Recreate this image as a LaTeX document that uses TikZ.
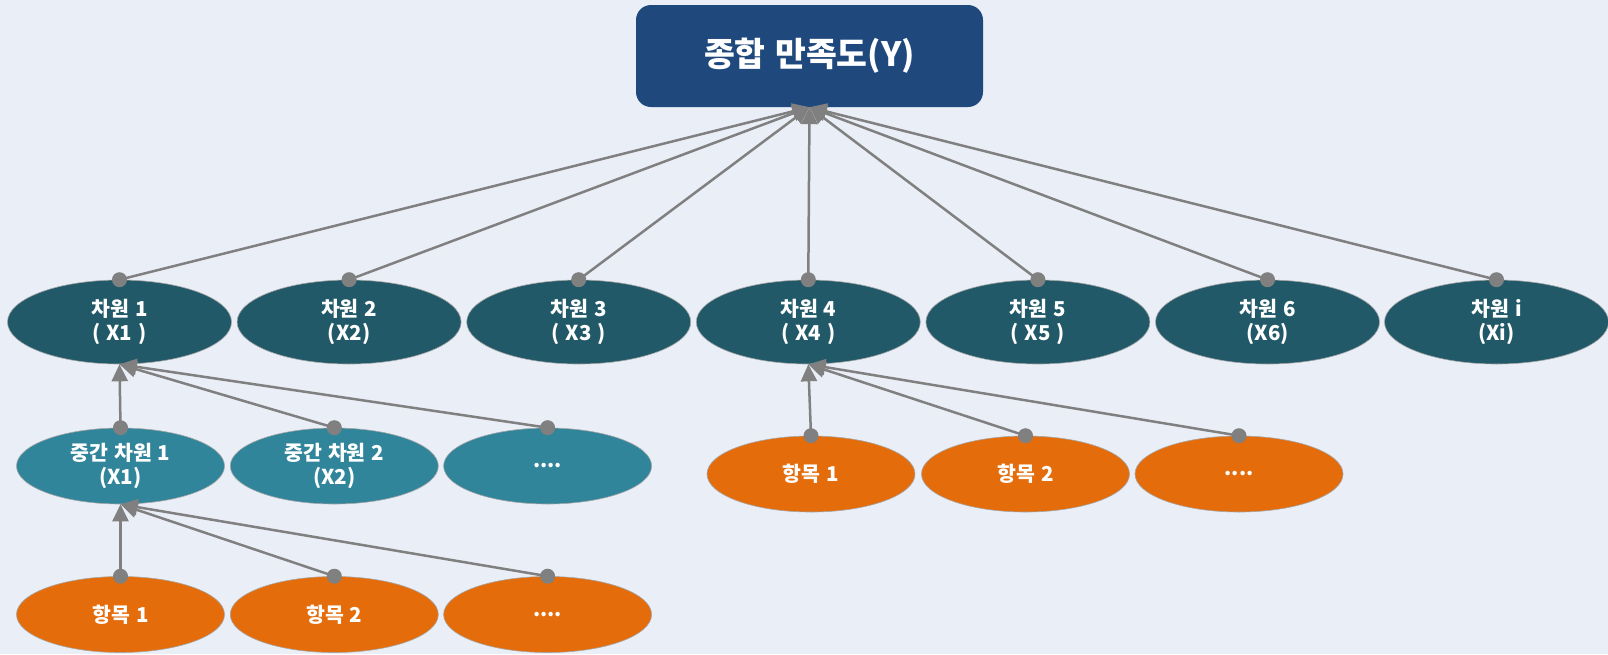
\documentclass[tikz,border=0pt]{standalone}
\usepackage{fontspec}
\setmainfont[WordSpace=1.25]{Noto Sans CJK KR}
\usetikzlibrary{shapes.geometric,arrows.meta}
\definecolor{bgc}{RGB}{234,238,247}
\definecolor{topc}{RGB}{31,73,125}
\definecolor{dimc}{RGB}{33,89,104}
\definecolor{midc}{RGB}{49,133,155}
\definecolor{itemc}{RGB}{228,108,10}
\definecolor{linec}{RGB}{128,128,128}
\tikzset{
  topbox/.style={draw=none,fill=topc,rounded corners=15pt,minimum width=347pt,minimum height=102pt,text=white,font=\bfseries\fontsize{33.5}{37}\selectfont},
  ell/.style={ellipse,inner sep=0pt,draw=gray!70,line width=0.6pt,text=white,align=center,font=\bfseries\fontsize{20.5}{24}\selectfont},
  dimell/.style={ell,fill=dimc,minimum width=224pt,minimum height=84pt},
  midell/.style={ell,fill=midc,minimum width=208pt,minimum height=76pt},
  itemell/.style={ell,fill=itemc,minimum width=208pt,minimum height=76pt},
  dot/.style={circle,fill=linec,inner sep=0pt,minimum size=15pt},
  conn/.style={draw=linec,line width=2.5pt,-{Triangle[length=17pt,width=16pt]}},
}
\begin{document}
\begin{tikzpicture}[x=1pt,y=-1pt]
\fill[bgc] (0,0) rectangle (1608,654);
\useasboundingbox (0,0) rectangle (1608,654);
\node[topbox] (Y) at (809.5,56) {종합 만족도(Y)};
% row 1
\node[dimell] (D1) at (119.5,322) {차원 1\\( X1 )};
\node[dimell] (D2) at (349.1,322) {차원 2\\(X2)};
\node[dimell] (D3) at (578.7,322) {차원 3\\( X3 )};
\node[dimell] (D4) at (808.3,322) {차원 4\\( X4 )};
\node[dimell] (D5) at (1037.9,322) {차원 5\\( X5 )};
\node[dimell] (D6) at (1267.5,322) {차원 6\\(X6)};
\node[dimell] (Di) at (1496.5,322) {차원 i\\(Xi)};
% row 2
\node[midell] (M1) at (120.5,466) {중간 차원 1\\(X1)};
\node[midell] (M2) at (334.3,466) {중간 차원 2\\(X2)};
\node[midell] (M3) at (547.6,466) {....};
% row 3 under D4
\node[itemell] (A1) at (811,474) {항목 1};
\node[itemell] (A2) at (1025.5,474) {항목 2};
\node[itemell] (A3) at (1239,474) {....};
% row 4 under M1
\node[itemell] (B1) at (120.5,614.5) {항목 1};
\node[itemell] (B2) at (334.3,614.5) {항목 2};
\node[itemell] (B3) at (547.6,614.5) {....};
% dots
\foreach \n in {D1,D2,D3,D4,D5,D6,Di,M1,M2,M3,A1,A2,A3,B1,B2,B3}
  \node[dot] (p\n) at (\n.north) {};
% connectors
\foreach \n in {D1,D2,D3,D4,D5,D6,Di}
  \draw[conn] (p\n.center) -- (Y.south);
\foreach \n in {M1,M2,M3}
  \draw[conn] (p\n.center) -- (D1.south);
\foreach \n in {A1,A2,A3}
  \draw[conn] (p\n.center) -- (D4.south);
\foreach \n in {B1,B2,B3}
  \draw[conn] (p\n.center) -- (M1.south);
\end{tikzpicture}
\end{document}
